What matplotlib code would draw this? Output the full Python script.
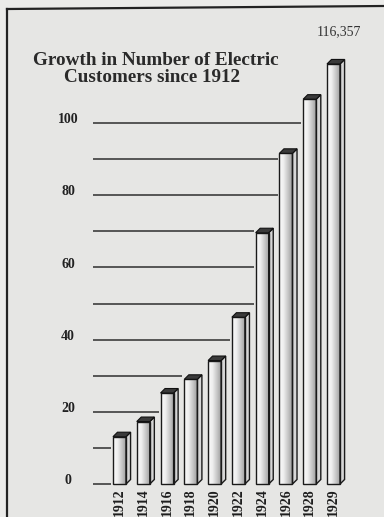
import matplotlib
matplotlib.use("Agg")
import matplotlib.pyplot as plt
import numpy as np
from matplotlib.patches import Rectangle, Polygon
from matplotlib.colors import LinearSegmentedColormap
from matplotlib.lines import Line2D

# ---- data (thousands of customers) ----
years = ["1912", "1914", "1916", "1918", "1920", "1922", "1924", "1926", "1928", "1929"]
customers = [13.1, 17.3, 25.2, 29.0, 34.2, 46.2, 69.6, 91.6, 106.6, 116.357]
last_label = "116,357"
grid_values = [0, 10, 20, 30, 40, 50, 60, 70, 80, 90, 100]
ytick_values = [0, 20, 40, 60, 80, 100]
ytick_labels = ["0", "20", "40", "60", "80", "100"]
title_lines = ["Growth in Number of Electric", "Customers since 1912"]

W, H = 384, 517
fig = plt.figure(figsize=(W / 100, H / 100), dpi=100)
fig.patch.set_facecolor("#ebebe9")
ax = fig.add_axes([0, 0, 1, 1])
ax.axis("off")

# pixel <-> data scale
x0_px, step_px = 119.5, 23.78
y0_px, unit_px = 484.0, 3.61
xlim = ((0 - x0_px) / step_px, (W - x0_px) / step_px)
ylim = ((y0_px - H) / unit_px, (y0_px - 0) / unit_px)

def px2x(px):
    return (px - x0_px) / step_px

def py2y(py):
    return (y0_px - py) / unit_px

serif = ["Liberation Serif", "DejaVu Serif"]

# background panel inside frame
ax.add_patch(Rectangle((px2x(7), ylim[0]), xlim[1] - px2x(7), py2y(8) - ylim[0],
                       facecolor="#e6e6e4", edgecolor="none", zorder=0))
# frame lines
fig.add_artist(Line2D([7 / W, 7 / W], [0, 1 - 9 / H], color="#222222", lw=1.6))
fig.add_artist(Line2D([7 / W, 1], [1 - 9 / H, 1 - 6 / H], color="#222222", lw=1.6))

bw = 0.55          # front width (category units)
dx = 0.19          # depth offset in x
dy = 1.25          # depth offset in y
idx = np.arange(len(years))

# gridlines stop at first bar that reaches them
xstart = px2x(93)
for g in grid_values:
    end = xlim[1]
    for i, v in zip(idx, customers):
        if v + dy >= g:
            end = i - bw / 2 - 0.08
            break
    ax.plot([xstart, end], [g, g], color="#4a4a4a", lw=1.3, zorder=1,
            solid_capstyle="butt")

# y labels
for val, lab in zip(ytick_values, ytick_labels):
    ax.text(px2x(68), val + 0.9, lab, ha="center", va="center",
            family=serif, fontweight="bold", fontsize=10, color="#222222")

cmap = LinearSegmentedColormap.from_list(
    "face", ["#fbfbfb", "#eeeeee", "#c4c4c4", "#9a9a9a"])
grad = np.linspace(0, 1, 64).reshape(1, -1)

for i, v in zip(idx, customers):
    l, r = i - bw / 2, i + bw / 2
    face = Rectangle((l, 0), bw, v, facecolor="none", edgecolor="#1a1a1a",
                     lw=1.0, zorder=4)
    ax.add_patch(face)
    im = ax.imshow(grad, extent=[l, r, 0, v], aspect="auto", cmap=cmap,
                   zorder=3, interpolation="bilinear")
    im.set_clip_path(face)
    side = Polygon([(r, 0), (r + dx, dy), (r + dx, v + dy), (r, v)],
                   closed=True, facecolor="#d6d6d6", edgecolor="#1a1a1a",
                   lw=1.0, zorder=3)
    ax.add_patch(side)
    cap = Polygon([(l, v), (r, v), (r + dx, v + dy), (l + dx, v + dy)],
                  closed=True, facecolor="#3a3a3a", edgecolor="#111111",
                  lw=0.8, zorder=5)
    ax.add_patch(cap)
    ax.text(i, py2y(502), years[i], rotation=90, ha="center", va="center",
            family=serif, fontweight="bold", fontsize=10, color="#1e1e1e")

# label over last bar
ax.text(idx[-1] + dx / 2 + 0.15, customers[-1] + 8.8, last_label, ha="center",
        va="center", family=serif, fontsize=10, color="#333333")

# title
ax.text(px2x(155.5), py2y(65), title_lines[0], ha="center", va="baseline",
        family=serif, fontweight="bold", fontsize=13.8, color="#2a2a2a")
ax.text(px2x(152.5), py2y(82), title_lines[1], ha="center", va="baseline",
        family=serif, fontweight="bold", fontsize=13.8, color="#2a2a2a")

ax.set_xlim(*xlim)
ax.set_ylim(*ylim)
fig.savefig("out.png", dpi=100, facecolor=fig.get_facecolor())
